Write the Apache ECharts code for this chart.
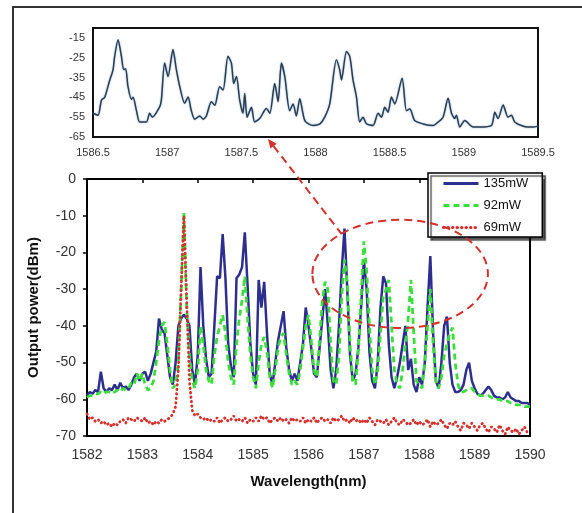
<!DOCTYPE html>
<html>
<head>
<meta charset="utf-8">
<script src="https://cdn.jsdelivr.net/npm/echarts@6/dist/echarts.min.js"></script>
<style>
  html, body { margin: 0; padding: 0; background: #fff; }
  #chart { width: 582px; height: 513px; }
</style>
</head>
<body>
<div id="chart"></div>
<script>
// Wavelength grid (nm) shared by the three main spectra
const wavelengths = [
  1582.00,1582.05,1582.10,1582.15,1582.20,1582.25,1582.30,1582.35,1582.40,1582.45,1582.50,1582.55,1582.60,1582.65,1582.70,1582.75,1582.80,1582.85,1582.90,1582.95,
  1583.00,1583.05,1583.10,1583.15,1583.20,1583.25,1583.30,1583.35,1583.40,1583.45,1583.50,1583.55,1583.60,1583.65,1583.70,1583.75,1583.80,1583.85,1583.90,1583.95,
  1584.00,1584.05,1584.10,1584.15,1584.20,1584.25,1584.30,1584.35,1584.40,1584.45,1584.50,1584.55,1584.60,1584.65,1584.70,1584.75,1584.80,1584.85,1584.90,1584.95,
  1585.00,1585.05,1585.10,1585.15,1585.20,1585.25,1585.30,1585.35,1585.40,1585.45,1585.50,1585.55,1585.60,1585.65,1585.70,1585.75,1585.80,1585.85,1585.90,1585.95,
  1586.00,1586.05,1586.10,1586.15,1586.20,1586.25,1586.30,1586.35,1586.40,1586.45,1586.50,1586.55,1586.60,1586.65,1586.70,1586.75,1586.80,1586.85,1586.90,1586.95,
  1587.00,1587.05,1587.10,1587.15,1587.20,1587.25,1587.30,1587.35,1587.40,1587.45,1587.50,1587.55,1587.60,1587.65,1587.70,1587.75,1587.80,1587.85,1587.90,1587.95,
  1588.00,1588.05,1588.10,1588.15,1588.20,1588.25,1588.30,1588.35,1588.40,1588.45,1588.50,1588.55,1588.60,1588.65,1588.70,1588.75,1588.80,1588.85,1588.90,1588.95,
  1589.00,1589.05,1589.10,1589.15,1589.20,1589.25,1589.30,1589.35,1589.40,1589.45,1589.50,1589.55,1589.60,1589.65,1589.70,1589.75,1589.80,1589.85,1589.90,1589.95,
  1590.00
];

// Output power (dBm) at 135mW pump
const power135 = [
  -59,-58,-58.5,-57.5,-58,-52.5,-57,-58,-57,-57.5,-56,-57.5,-55.5,-57,-56.5,-57.5,-56,-54,-53,-55,
  -53,-52.5,-55,-53,-50,-47,-38,-41,-42,-48,-54,-56,-50,-40,-38,-37,-38,-40,-52,-56,
  -48,-24,-40,-49,-54,-53,-40,-26.5,-27,-15,-27,-45,-51,-54,-27,-26,-24,-14.5,-29,-45,
  -53,-56,-27.5,-35,-28,-42,-53,-56,-50,-44,-40,-36,-46,-52,-55,-53,-55,-50,-45,-35,
  -40,-46,-53,-54,-46,-38,-30,-40,-52,-57,-52,-40,-25,-13.5,-30,-48,-55,-53,-46,-35,
  -22,-30,-47,-55,-57,-50,-35,-26.5,-28.5,-45,-54,-57,-54,-50,-45,-40,-52,-49,-56,-58,
  -54,-56,-50,-35,-21,-42,-55,-57,-50,-40,-37.5,-50,-56,-58,-58,-57.5,-56,-52,-50,-55,
  -57,-58.5,-59,-58.5,-57.5,-56.5,-57.5,-59,-59.5,-59.5,-60,-59.5,-58,-59.5,-60,-60.5,-60.5,-61,-61,-61,
  -61.5
];

// Output power (dBm) at 92mW pump
const power92 = [
  -59.5,-59,-59,-58.5,-58.5,-58,-58.5,-58,-58,-58.5,-58,-57.5,-58,-57,-57.5,-57,-55.5,-56,-53,-55,
  -53,-56,-57.5,-57,-55,-50,-44,-40,-39,-45,-52,-57,-56,-50,-30,-9,-35,-48,-55,-57,
  -52,-40,-45,-52,-55,-56,-48,-43,-40,-37,-42,-50,-54,-56,-45,-38,-33,-26.5,-38,-48,
  -54,-57,-50,-45,-43,-47,-54,-57,-52,-46,-43,-42,-48,-53,-56,-55,-56,-52,-46,-40,
  -37,-44,-52,-54,-44,-33,-28,-30,-45,-55,-56,-48,-32,-22,-28,-45,-55,-56,-47,-32,
  -17,-25,-40,-52,-56,-52,-42,-32,-30,-27.5,-40,-52,-56,-57,-52,-45,-38,-27.5,-42,-55,
  -56,-57,-50,-40,-30,-45,-55,-57,-54,-48,-45,-42,-40.5,-50,-56,-58,-58,-57.5,-57,-57,
  -58,-58.5,-59,-59,-59,-59,-59.5,-60,-60,-60,-60.5,-60.5,-60.5,-61,-61,-61.5,-61.5,-61.5,-62,-62,
  -62
];

// Output power (dBm) at 69mW pump
const power69 = [
  -64,-65.5,-65,-66,-65.5,-66.5,-66,-67,-66.5,-67.5,-66.5,-67,-66,-65.5,-66.5,-65,-65.5,-66,-65,-65.5,
  -66,-65,-66.5,-66,-67,-66,-66.5,-65.5,-66,-65.5,-65,-64,-62,-52,-30,-10,-33,-55,-63,-64.5,
  -64,-65,-65.5,-65,-66,-65.5,-66,-65,-66.5,-65.5,-65,-66,-65.5,-64.5,-66,-65.5,-66,-65,-66.5,-65.5,
  -66,-65,-66,-64.5,-65.5,-65,-66.5,-65.5,-65,-66,-65,-66,-65.5,-66.5,-65,-66,-65.5,-66,-65,-66.5,
  -65.5,-66,-65,-66.5,-65.5,-65,-66,-65.5,-66.5,-65,-66,-65.5,-64.5,-66,-65.5,-66.5,-65,-66,-65.5,-66.5,
  -65.5,-66.5,-65,-66,-67,-65.5,-66,-66.5,-65.5,-67,-66,-65,-66.5,-67,-65.5,-66,-67,-66.5,-65.5,-67,
  -66,-67,-66.5,-65.5,-67.5,-66,-67,-66.5,-65.5,-67,-68,-66.5,-67,-66,-67.5,-68.5,-66.5,-67,-68,-66.5,
  -67.5,-68.5,-67,-66.5,-68,-69,-67.5,-68,-69,-67,-68.5,-69.5,-67.5,-68.5,-69,-68,-69.5,-68.5,-67.5,-69,
  -68.5
];

// Inset: zoomed spectrum 1586.5 - 1589.5 nm, [wavelength, dBm]
const insetSpectrum = [
  [1586.500,-53],[1586.534,-54],[1586.557,-46.4],[1586.579,-45],[1586.613,-36.2],[1586.635,-31.1],
  [1586.646,-24.3],[1586.669,-15.9],[1586.691,-24],[1586.707,-31],[1586.720,-30.5],[1586.736,-39.6],
  [1586.759,-46],[1586.770,-45],[1586.793,-51.7],[1586.815,-57.4],[1586.860,-57.4],[1586.882,-53],
  [1586.900,-55],[1586.950,-49.7],[1586.961,-46.3],[1586.983,-27.7],[1587.006,-34.5],[1587.039,-20.9],
  [1587.062,-31],[1587.085,-39.6],[1587.118,-48],[1587.141,-44.8],[1587.163,-51.8],[1587.186,-56],
  [1587.220,-54.4],[1587.242,-56],[1587.264,-54.4],[1587.298,-47.2],[1587.321,-49],[1587.354,-39.6],
  [1587.377,-41.3],[1587.410,-24.3],[1587.433,-27.7],[1587.449,-38],[1587.467,-34.5],[1587.489,-46.4],
  [1587.511,-53],[1587.523,-43],[1587.539,-55],[1587.568,-50],[1587.590,-57.4],[1587.624,-55.7],
  [1587.669,-50.6],[1587.692,-53],[1587.725,-38],[1587.748,-47.2],[1587.770,-27.7],[1587.793,-34.5],
  [1587.826,-51.7],[1587.849,-48.3],[1587.871,-54.4],[1587.894,-45.7],[1587.928,-56.7],[1587.984,-59.2],
  [1588.030,-58.4],[1588.062,-55],[1588.096,-48.3],[1588.141,-26],[1588.163,-31.1],[1588.175,-36.2],
  [1588.209,-21.8],[1588.231,-24.3],[1588.253,-36.2],[1588.276,-44.8],[1588.298,-57.4],[1588.320,-55],
  [1588.343,-58.3],[1588.388,-59.2],[1588.422,-53],[1588.445,-55],[1588.467,-50],[1588.489,-52.5],
  [1588.512,-44.8],[1588.534,-48.3],[1588.584,-35.3],[1588.613,-51.7],[1588.636,-50.9],[1588.669,-56.7],
  [1588.725,-58.4],[1588.793,-59.2],[1588.826,-57.5],[1588.860,-55],[1588.894,-45.5],[1588.917,-53],
  [1588.939,-55.7],[1588.950,-54],[1588.973,-60],[1589.006,-56.7],[1589.062,-60],[1589.107,-60],
  [1589.186,-59.2],[1589.209,-52.5],[1589.231,-55.7],[1589.265,-48.9],[1589.298,-55],[1589.321,-54],
  [1589.343,-57.4],[1589.388,-59.2],[1589.433,-60],[1589.467,-60],[1589.500,-59.5]
];

// Annotation: ellipse around the zoomed region (nm / dBm) and arrow to the inset
const ellipseNm = [1586.07, 1589.24];
const ellipseDbm = [-40.6, -11.1];
const arrowInsetPoint = [1587.68, -65];
const arrowMainPoint = [1586.6, -15];

const FONT = 'Liberation Sans, Arial, sans-serif';
const RED = '#d4302c';

const chart = echarts.init(document.getElementById('chart'));

const pairs = values => wavelengths.map((w, i) => [w, values[i]]);
// plain numbers, no thousands separator
const plain = v => String(v);

chart.setOption({
  animation: false,
  backgroundColor: '#fff',
  textStyle: { fontFamily: FONT },
  grid: [
    // main plot
    { left: 87, top: 179, width: 443, height: 257, show: true, borderColor: '#000', borderWidth: 2 },
    // inset
    { left: 93, top: 28, width: 445, height: 109, show: true, borderColor: '#111', borderWidth: 2 },
  ],
  legend: {
    left: 428,
    top: 173,
    orient: 'vertical',
    data: ['135mW', '92mW', '69mW'],
    itemWidth: 35,
    itemHeight: 14,
    itemGap: 9,
    padding: [4, 14, 3, 14],
    backgroundColor: '#fff',
    borderColor: '#000',
    borderWidth: 1.5,
    shadowColor: 'rgba(0,0,0,0.65)',
    shadowBlur: 1,
    shadowOffsetX: 3,
    shadowOffsetY: 3,
    // hide the symbol, keep only the line sample
    itemStyle: { opacity: 0 },
    lineStyle: { width: 3 },
    textStyle: { fontSize: 13, color: '#111', fontFamily: FONT },
  },
  xAxis: [
    {
      gridIndex: 0,
      type: 'value',
      min: 1582,
      max: 1590,
      interval: 1,
      name: 'Wavelength(nm)',
      nameLocation: 'middle',
      nameGap: 38,
      nameTextStyle: { fontSize: 15, fontWeight: 'bold', color: '#111' },
      axisLine: { lineStyle: { color: '#000', width: 2 } },
      axisTick: { show: true, length: 4, lineStyle: { color: '#000', width: 1.5 } },
      axisLabel: { fontSize: 14, color: '#333', margin: 12, formatter: plain },
      splitLine: { show: false },
    },
    {
      gridIndex: 1,
      type: 'value',
      min: 1586.5,
      max: 1589.5,
      interval: 0.5,
      axisLine: { lineStyle: { color: '#111', width: 2 } },
      axisTick: { show: false },
      axisLabel: { fontSize: 11, color: '#333', margin: 10, formatter: plain },
      splitLine: { show: false },
    },
  ],
  yAxis: [
    {
      gridIndex: 0,
      type: 'value',
      min: -70,
      max: 0,
      interval: 10,
      name: 'Output power(dBm)',
      nameLocation: 'middle',
      nameRotate: 90,
      nameGap: 46,
      nameTextStyle: { fontSize: 15, fontWeight: 'bold', color: '#111' },
      axisLine: { show: true, lineStyle: { color: '#000', width: 2 } },
      axisTick: { show: true, length: 4, lineStyle: { color: '#000', width: 1.5 } },
      axisLabel: { fontSize: 14, color: '#333', margin: 11, formatter: plain },
      splitLine: { show: false },
    },
    {
      gridIndex: 1,
      type: 'value',
      min: -65,
      max: -10,
      interval: 10,
      axisLine: { show: true, lineStyle: { color: '#111', width: 2 } },
      axisTick: { show: false },
      axisLabel: { fontSize: 11, color: '#333', margin: 8, showMaxLabel: false, formatter: plain },
      splitLine: { show: false },
    },
  ],
  series: [
    {
      name: '135mW',
      type: 'line',
      xAxisIndex: 0,
      yAxisIndex: 0,
      data: pairs(power135),
      symbol: 'none',
      color: '#2d2f8f',
      lineStyle: { width: 2.5, color: '#2d2f8f' },
    },
    {
      name: '92mW',
      type: 'line',
      xAxisIndex: 0,
      yAxisIndex: 0,
      data: pairs(power92),
      symbol: 'none',
      color: '#3ade3a',
      lineStyle: { width: 2.8, color: '#3ade3a', type: [6, 4] },
    },
    {
      name: '69mW',
      type: 'line',
      xAxisIndex: 0,
      yAxisIndex: 0,
      data: pairs(power69),
      symbol: 'none',
      color: RED,
      lineStyle: { width: 2.8, color: RED, type: [0.5, 4], cap: 'round' },
    },
    {
      name: 'inset',
      type: 'line',
      xAxisIndex: 1,
      yAxisIndex: 1,
      data: insetSpectrum,
      symbol: 'none',
      smooth: 0.25,
      lineStyle: {
        width: 1.5,
        color: '#2a3c50',
        shadowColor: 'rgba(110,150,190,0.8)',
        shadowBlur: 2,
      },
    },
  ],
});

// Annotations placed from data coordinates
const toMain = p => chart.convertToPixel({ gridIndex: 0 }, p);
const toInset = p => chart.convertToPixel({ gridIndex: 1 }, p);
const eTopLeft = toMain([ellipseNm[0], ellipseDbm[1]]);
const eBottomRight = toMain([ellipseNm[1], ellipseDbm[0]]);
const tip = toInset(arrowInsetPoint);
tip[1] += 2;
const tail = toMain(arrowMainPoint);
const dx = tail[0] - tip[0];
const dy = tail[1] - tip[1];
const len = Math.sqrt(dx * dx + dy * dy);
const ux = dx / len;
const uy = dy / len;
const headLen = 9;
const headHalf = 4;
const base = [tip[0] + ux * headLen, tip[1] + uy * headLen];

chart.setOption({
  graphic: [
    // outer figure frame
    {
      type: 'rect',
      silent: true,
      shape: { x: 13, y: 7, width: 600, height: 540 },
      style: { fill: 'none', stroke: '#333', lineWidth: 2 },
      z: 10,
    },
    {
      type: 'ellipse',
      silent: true,
      shape: {
        cx: (eTopLeft[0] + eBottomRight[0]) / 2,
        cy: (eTopLeft[1] + eBottomRight[1]) / 2,
        rx: (eBottomRight[0] - eTopLeft[0]) / 2,
        ry: (eBottomRight[1] - eTopLeft[1]) / 2,
      },
      style: { fill: 'none', stroke: RED, lineWidth: 2, lineDash: [8, 5] },
      z: 10,
    },
    {
      type: 'line',
      silent: true,
      shape: { x1: base[0], y1: base[1], x2: tail[0], y2: tail[1] },
      style: { stroke: RED, lineWidth: 2, lineDash: [8, 5] },
      z: 10,
    },
    {
      type: 'polygon',
      silent: true,
      shape: {
        points: [
          tip,
          [base[0] - uy * headHalf, base[1] + ux * headHalf],
          [base[0] + uy * headHalf, base[1] - ux * headHalf],
        ],
      },
      style: { fill: RED },
      z: 10,
    },
  ],
});
</script>
</body>
</html>
